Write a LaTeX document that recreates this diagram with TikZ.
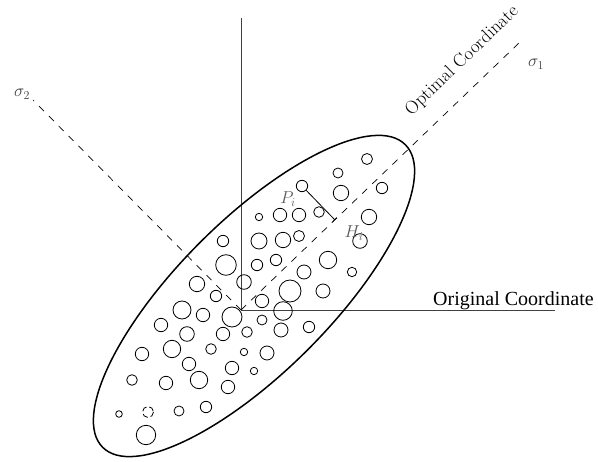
\documentclass[tikz,border=0pt]{standalone}
\usepackage{fontspec}
\newfontfamily\timesfont{Liberation Serif}
\usetikzlibrary{arrows.meta}
\begin{document}
\begin{tikzpicture}[x=1pt,y=-1pt,
  axis/.style={black!75, line width=0.9pt},
  principal/.style={black, line width=0.7pt, dash pattern=on 7pt off 7pt},
  hull/.style={black, line width=1.5pt},
  sample/.style={black, line width=0.8pt},
  lbl/.style={text=black!75, inner sep=0pt, font=\fontsize{17.28}{17.28}\selectfont},
]
\useasboundingbox (0,0) rectangle (598,462);

% origin and axis end points
\coordinate (O) at (241,310);
\coordinate (vtop) at (241,18);
\coordinate (hend) at (555,310);
\coordinate (s1end) at (520,42);
\coordinate (s2end) at (33,100);
\coordinate (foot) at (335,220);

% original coordinate axes
\draw[axis] (vtop) -- (O) -- (hend);
% principal directions
\draw[principal] (O) -- (s1end);
\draw[principal] (O) -- (s2end);

% enclosing ellipse of the data cloud
\draw[hull, rotate around={45:(254,296)}] (254,296) ellipse [x radius=214pt, y radius=76pt];

% sample points
\foreach \cx/\cy/\r in {
  367/159/5.5, 338/173/5, 341/193/7.7, 382/188/5.7, 319/212/5.3,
  369/217/7.7, 360/241/7.3, 280/215/6.7, 299/215/6.7, 283/240/7.7,
  299/236/5.5, 259/217/3.7, 223/241/5.7, 259/241/8, 226/265/10.3,
  257/265/5.7, 276/260/5.7, 328/260/8.7, 304/272/7, 352/272/4.7,
  244/282/7.3, 197/284/7.7, 216/296/5.7, 262/301/6.7, 290/291/11,
  323/291/7, 182/310/9, 203/315/6.7, 232/317/10, 283/311/9.3,
  262/320/5, 309/327/5.7, 161/325/6.7, 187/334/7.3, 223/334/6.7,
  247/332/5.3, 281/330/7, 142/354/6.7, 172/349/8.7, 211/349/5.3,
  244/352/3.7, 267/353/7, 189/364/6.7, 232/368/6.7, 254/371/3.7,
  132/380/5.3, 166/383/6.7, 199/380/8.7, 228/387/6.7, 119/414/3.3,
  179/411/5, 206/407/5.7, 146/435/9.7}
  \draw[sample] (\cx,\cy) circle[radius=\r pt];
\draw[sample, dash pattern=on 6pt off 3pt, dash phase=-1pt] (148,412) circle[radius=5.5pt];

% the point P_i and its projection onto sigma_1
\node[draw, sample, circle, minimum size=11.4pt, inner sep=0pt] (pi) at (302,186) {};
\draw[sample, -{Bar[width=6pt,line width=0.8pt]}] (pi) -- (foot);

% labels
\node[lbl] (s2lbl) at (22,94) {$\sigma_2$};
\node[lbl] (s1lbl) at (536,64) {$\sigma_1$};
\node[lbl, text=black!65] (plbl) at (288,199) {$P_i$};
\node[lbl, text=black!65] (hlbl) at (354,233) {$H_i$};
\node[rotate=44, inner sep=0pt, font=\fontsize{18.5}{18.5}\selectfont] (opt) at (462,61) {Optimal Coordinate};
\node[anchor=base west, inner sep=0pt, font=\timesfont\fontsize{20}{20}\selectfont] (orig) at (433,306) {Original Coordinate};
\end{tikzpicture}
\end{document}
